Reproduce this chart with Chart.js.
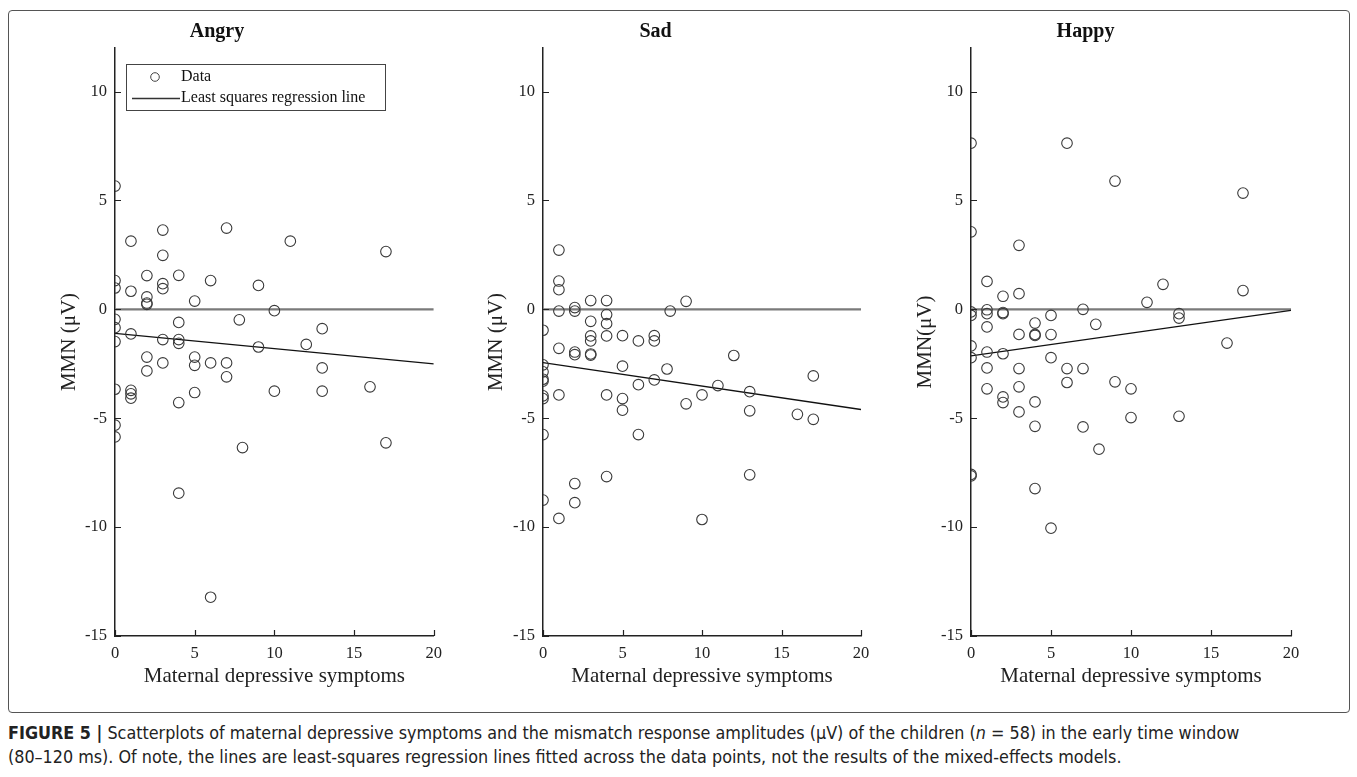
<!DOCTYPE html>
<html><head><meta charset="utf-8">
<script src="https://cdn.jsdelivr.net/npm/chart.js@4.4.0/dist/chart.umd.min.js"></script>
<style>
html,body{margin:0;padding:0;background:#fff;}
body{width:1357px;height:777px;position:relative;overflow:hidden;}
#frame{position:absolute;left:8px;top:10px;width:1340px;height:701px;border:1px solid #555;border-radius:4px;}
canvas{position:absolute;top:0;}
#caption{position:absolute;left:8px;top:721px;width:1345px;font-family:"Liberation Sans Narrow","DejaVu Sans Condensed",sans-serif;font-size:17.8px;line-height:24px;color:#222;white-space:nowrap;}
</style></head>
<body>
<div id="frame"></div>
<canvas id="c1" width="450" height="700" style="left:0px"></canvas>
<canvas id="c2" width="430" height="700" style="left:450px"></canvas>
<canvas id="c3" width="440" height="700" style="left:880px"></canvas>
<div id="caption"><b>FIGURE 5 |</b> Scatterplots of maternal depressive symptoms and the mismatch response amplitudes (µV) of the children (<i>n</i> = 58) in the early time window<br>(80–120 ms). Of note, the lines are least-squares regression lines fitted across the data points, not the results of the mixed-effects models.</div>
<script>
// ---- data ----
const xTicks = [0, 5, 10, 15, 20];
const yTicks = [-15, -10, -5, 0, 5, 10];
const panelTitles = ['Angry', 'Sad', 'Happy'];
const yAxisTitles = ['MMN (μV)', 'MMN (μV)', 'MMN(μV)'];
const xAxisTitle = 'Maternal depressive symptoms';
const legendLabels = ['Data', 'Least squares regression line'];

const angryX = [0,0,0,0,0,0,0,0,0, 1,1,1,1,1,1, 2,2,2,2,2,2, 3,3,3,3,3,3, 4,4,4,4,4,4, 5,5,5,5, 6,6,6, 7,7,7, 7.8, 8, 9,9, 10,10, 11, 12, 13,13,13, 16, 17,17];
const angryY = [5.66,1.32,0.98,-0.46,-0.84,-1.48,-3.67,-5.32,-5.86, 3.13,0.83,-1.13,-3.72,-3.88,-4.08, 1.55,0.57,0.29,0.23,-2.19,-2.83, 3.64,2.48,1.18,0.95,-1.39,-2.46, 1.56,-0.6,-1.39,-1.56,-4.28,-8.44, 0.38,-2.19,-2.57,-3.82, 1.32,-2.46,-13.22, 3.73,-2.46,-3.1, -0.48, -6.35, 1.10,-1.73, -0.06,-3.76, 3.13, -1.61, -0.89,-2.69,-3.76, -3.56, 2.65,-6.13];

const sadX = [0,0,0,0,0,0,0,0,0, 1,1,1,1,1,1,1, 2,2,2,2,2,2, 3,3,3,3,3,3, 4,4,4,4,4,4, 5,5,5,5, 6,6,6, 7,7,7, 7.8, 8, 9,9, 10,10, 11, 12, 13,13,13, 16, 17,17];
const sadY = [-0.96,-2.55,-2.87,-3.21,-3.3,-3.97,-4.1,-5.75,-8.76, 2.72,1.3,0.9,-0.08,-1.79,-3.93,-9.6, 0.08,-0.08,-1.96,-2.08,-8.0,-8.88, 0.4,-0.55,-1.22,-1.45,-2.05,-2.1, 0.4,-0.24,-0.66,-1.22,-3.93,-7.68, -1.21,-2.61,-4.1,-4.63, -1.45,-3.46,-5.75, -1.21,-1.45,-3.24, -2.74, -0.08, 0.37,-4.34, -3.93,-9.65, -3.5, -2.12, -3.78,-4.66,-7.6, -4.82, -3.06,-5.05];

const happyX = [0,0,0,0,0,0,0,0, 1,1,1,1,1,1,1, 2,2,2,2,2,2, 3,3,3,3,3,3, 4,4,4,4,4,4, 5,5,5,5, 6,6,6, 7,7,7, 7.8, 8, 9,9, 10,10, 11, 12, 13,13,13, 16, 17,17];
const happyY = [7.63,3.56,-0.12,-0.28,-1.68,-2.22,-7.58,-7.65, 1.28,-0.02,-0.2,-0.81,-1.96,-2.69,-3.65, 0.6,-0.15,-0.2,-2.04,-4.02,-4.28, 2.94,0.72,-1.15,-2.72,-3.56,-4.71, -0.63,-1.15,-1.2,-4.25,-5.37,-8.23, -0.28,-1.16,-2.22,-10.05, 7.63,-2.72,-3.36, 0.0,-2.72,-5.4, -0.69, -6.42, 5.89,-3.33, -3.65,-4.97, 0.32, 1.15, -0.2,-0.4,-4.91, -1.55, 5.34,0.86];

// regression line endpoints (at x = 0 and x = 20) and zero reference line
const fitX = [0, 20];
const angryFit = [-1.1, -2.5];
const sadFit = [-2.45, -4.6];
const happyFit = [-2.14, -0.05];
const zeroLine = [0, 0];

// ---- drawing ----
const SERIF = '"Liberation Serif","Times New Roman",serif';

const inwardTicks = {
  id: 'inwardTicks',
  afterDraw(chart) {
    const {ctx, chartArea: a, scales: {x, y}} = chart;
    ctx.save();
    ctx.strokeStyle = '#222';
    ctx.lineWidth = 1.2;
    ctx.beginPath();
    yTicks.forEach(v => { const py = Math.round(y.getPixelForValue(v)) + 0.5; ctx.moveTo(a.left, py); ctx.lineTo(a.left + 6, py); });
    xTicks.forEach(v => { const px = Math.round(x.getPixelForValue(v)) + 0.5; ctx.moveTo(px, a.bottom); ctx.lineTo(px, a.bottom - 6); });
    ctx.stroke();
    ctx.restore();
  }
};

const boxLegend = {
  id: 'boxLegend',
  afterDraw(chart) {
    const {ctx, chartArea: a} = chart;
    const ds = chart.data.datasets;
    const bx = a.left + 11, by = a.top + 16, bw = 259, bh = 46;
    ctx.save();
    ctx.fillStyle = '#fff';
    ctx.fillRect(bx, by, bw, bh);
    ctx.strokeStyle = '#444';
    ctx.lineWidth = 1;
    ctx.strokeRect(bx + 0.5, by + 0.5, bw, bh);
    ctx.beginPath();
    ctx.arc(bx + 29, by + 13, 4.3, 0, Math.PI * 2);
    ctx.strokeStyle = '#444';
    ctx.lineWidth = 1;
    ctx.stroke();
    ctx.beginPath();
    ctx.moveTo(bx + 6, by + 34.5);
    ctx.lineTo(bx + 54, by + 34.5);
    ctx.strokeStyle = '#333';
    ctx.lineWidth = 1.3;
    ctx.stroke();
    ctx.fillStyle = '#111';
    ctx.font = '16px ' + SERIF;
    ctx.textBaseline = 'middle';
    ctx.textAlign = 'left';
    ctx.fillText(ds[0].label, bx + 55, by + 13);
    ctx.fillText(ds[1].label, bx + 55, by + 34);
    ctx.restore();
  }
};

function makePanel(id, idx, xs, ys, fit, geom, withLegend) {
  const pts = xs.map((x, i) => ({x: x, y: ys[i]}));
  new Chart(document.getElementById(id), {
    type: 'scatter',
    data: {
      datasets: [
        {label: legendLabels[0], data: pts, pointStyle: 'circle', pointRadius: 5.3, pointHoverRadius: 5.3,
         borderColor: '#3a3a3a', backgroundColor: 'rgba(0,0,0,0)', pointBorderWidth: 1.1, order: 1},
        {label: legendLabels[1], data: fitX.map((x, i) => ({x: x, y: fit[i]})), showLine: true, pointRadius: 0,
         borderColor: '#111', borderWidth: 1.3, order: 2},
        {label: 'zero', data: fitX.map((x, i) => ({x: x, y: zeroLine[i]})), showLine: true, pointRadius: 0,
         borderColor: '#7a7a7a', borderWidth: 2.2, order: 3}
      ]
    },
    options: {
      responsive: false, animation: false, events: [],
      layout: {padding: {left: 0, right: geom.padRight, top: 0, bottom: 0}},
      plugins: {
        legend: {display: false}, tooltip: {enabled: false},
        title: {display: true, text: panelTitles[idx], color: '#111',
                font: {family: SERIF, size: 20, weight: 'bold'}, padding: {top: 20, bottom: 4}}
      },
      scales: {
        x: {
          type: 'linear', min: 0, max: 20,
          afterBuildTicks: s => { s.ticks = xTicks.map(v => ({value: v})); },
          afterFit: s => { s.height = 64; },
          grid: {display: false, drawTicks: false},
          border: {display: true, color: '#222', width: 1.5},
          ticks: {font: {family: SERIF, size: 16.5}, color: '#222', padding: 8, maxRotation: 0, autoSkip: false},
          title: {display: true, text: xAxisTitle, color: '#222', font: {family: SERIF, size: 21}, padding: {top: 0, bottom: 11}}
        },
        y: {
          type: 'linear', min: -15, max: 12,
          afterBuildTicks: s => { s.ticks = yTicks.map(v => ({value: v})); },
          afterFit: s => { s.width = geom.yw; },
          grid: {display: false, drawTicks: false},
          border: {display: true, color: '#222', width: 1.5},
          ticks: {font: {family: SERIF, size: 16.5}, color: '#222', padding: 8, autoSkip: false},
          title: {display: true, text: yAxisTitles[idx], color: '#222', font: {family: SERIF, size: 21}, padding: {top: geom.ytp, bottom: 0}}
        }
      }
    },
    plugins: withLegend ? [inwardTicks, boxLegend] : [inwardTicks]
  });
}

makePanel('c1', 0, angryX, angryY, angryFit, {yw: 115, padRight: 16, ytp: 57}, true);
makePanel('c2', 1, sadX, sadY, sadFit, {yw: 93, padRight: 19, ytp: 34}, false);
makePanel('c3', 2, happyX, happyY, happyFit, {yw: 91, padRight: 29, ytp: 33}, false);
</script>
</body></html>
